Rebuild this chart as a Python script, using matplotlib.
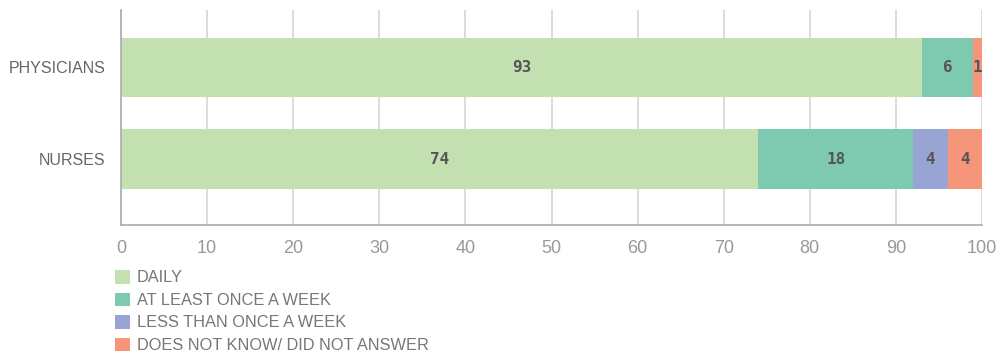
import matplotlib
matplotlib.use("Agg")
import matplotlib.pyplot as plt
from matplotlib.patches import Patch

GROUPS = ["PHYSICIANS", "NURSES"]
SERIES = ["DAILY", "AT LEAST ONCE A WEEK", "LESS THAN ONCE A WEEK", "DOES NOT KNOW/ DID NOT ANSWER"]
VALUES = {
    "DAILY": [93, 74],
    "AT LEAST ONCE A WEEK": [6, 18],
    "LESS THAN ONCE A WEEK": [0, 4],
    "DOES NOT KNOW/ DID NOT ANSWER": [1, 4],
}
COLORS = ["#c3e0b0", "#7dcab0", "#98a4d4", "#f5967a"]
XTICKS = list(range(0, 101, 10))

LABEL_FONT = "Liberation Sans"

fig = plt.figure(figsize=(10.01, 3.56), dpi=100)
ax = fig.add_axes([121 / 1001, 1 - 225 / 356, (982 - 121) / 1001, 215 / 356])

left = [0, 0]
for name, col in zip(SERIES, COLORS):
    vals = VALUES[name]
    ax.barh(range(len(GROUPS)), vals, left=left, height=0.645, color=col, zorder=2)
    for i, v in enumerate(vals):
        if v > 0:
            ax.text(left[i] + v / 2, i, str(v), ha="center", va="center",
                    fontsize=11.5, fontweight="bold", color="#555555",
                    family="DejaVu Sans Mono", zorder=3)
    left = [l + v for l, v in zip(left, vals)]

ax.set_xlim(0, 100)
ax.set_ylim(1.721, -0.628)
ax.set_xticks(XTICKS)
ax.set_yticks(range(len(GROUPS)))
ax.set_yticklabels(GROUPS, family=LABEL_FONT, fontsize=11.5, color="#666666")
ax.set_xticklabels([str(t) for t in XTICKS], family=LABEL_FONT, fontsize=13, color="#999999")
ax.tick_params(axis="y", length=0, pad=11)
ax.tick_params(axis="x", length=0, pad=11)
ax.grid(axis="x", color="#d6d6d6", lw=1.2, zorder=0)
for s in ("top", "right"):
    ax.spines[s].set_visible(False)
for s in ("left", "bottom"):
    ax.spines[s].set_color("#aaaaaa")
    ax.spines[s].set_linewidth(1.2)

handles = [Patch(facecolor=c, edgecolor="none") for c in COLORS]
fig.legend(handles, SERIES, loc="upper left", bbox_to_anchor=(115 / 1001, 1 - 270 / 356),
           frameon=False, handlelength=0.9, handleheight=0.9, handletextpad=0.45,
           labelspacing=0.43, borderaxespad=0, borderpad=0,
           prop={"family": LABEL_FONT, "size": 11.8}, labelcolor="#777777")

fig.savefig("out.png", dpi=100)
